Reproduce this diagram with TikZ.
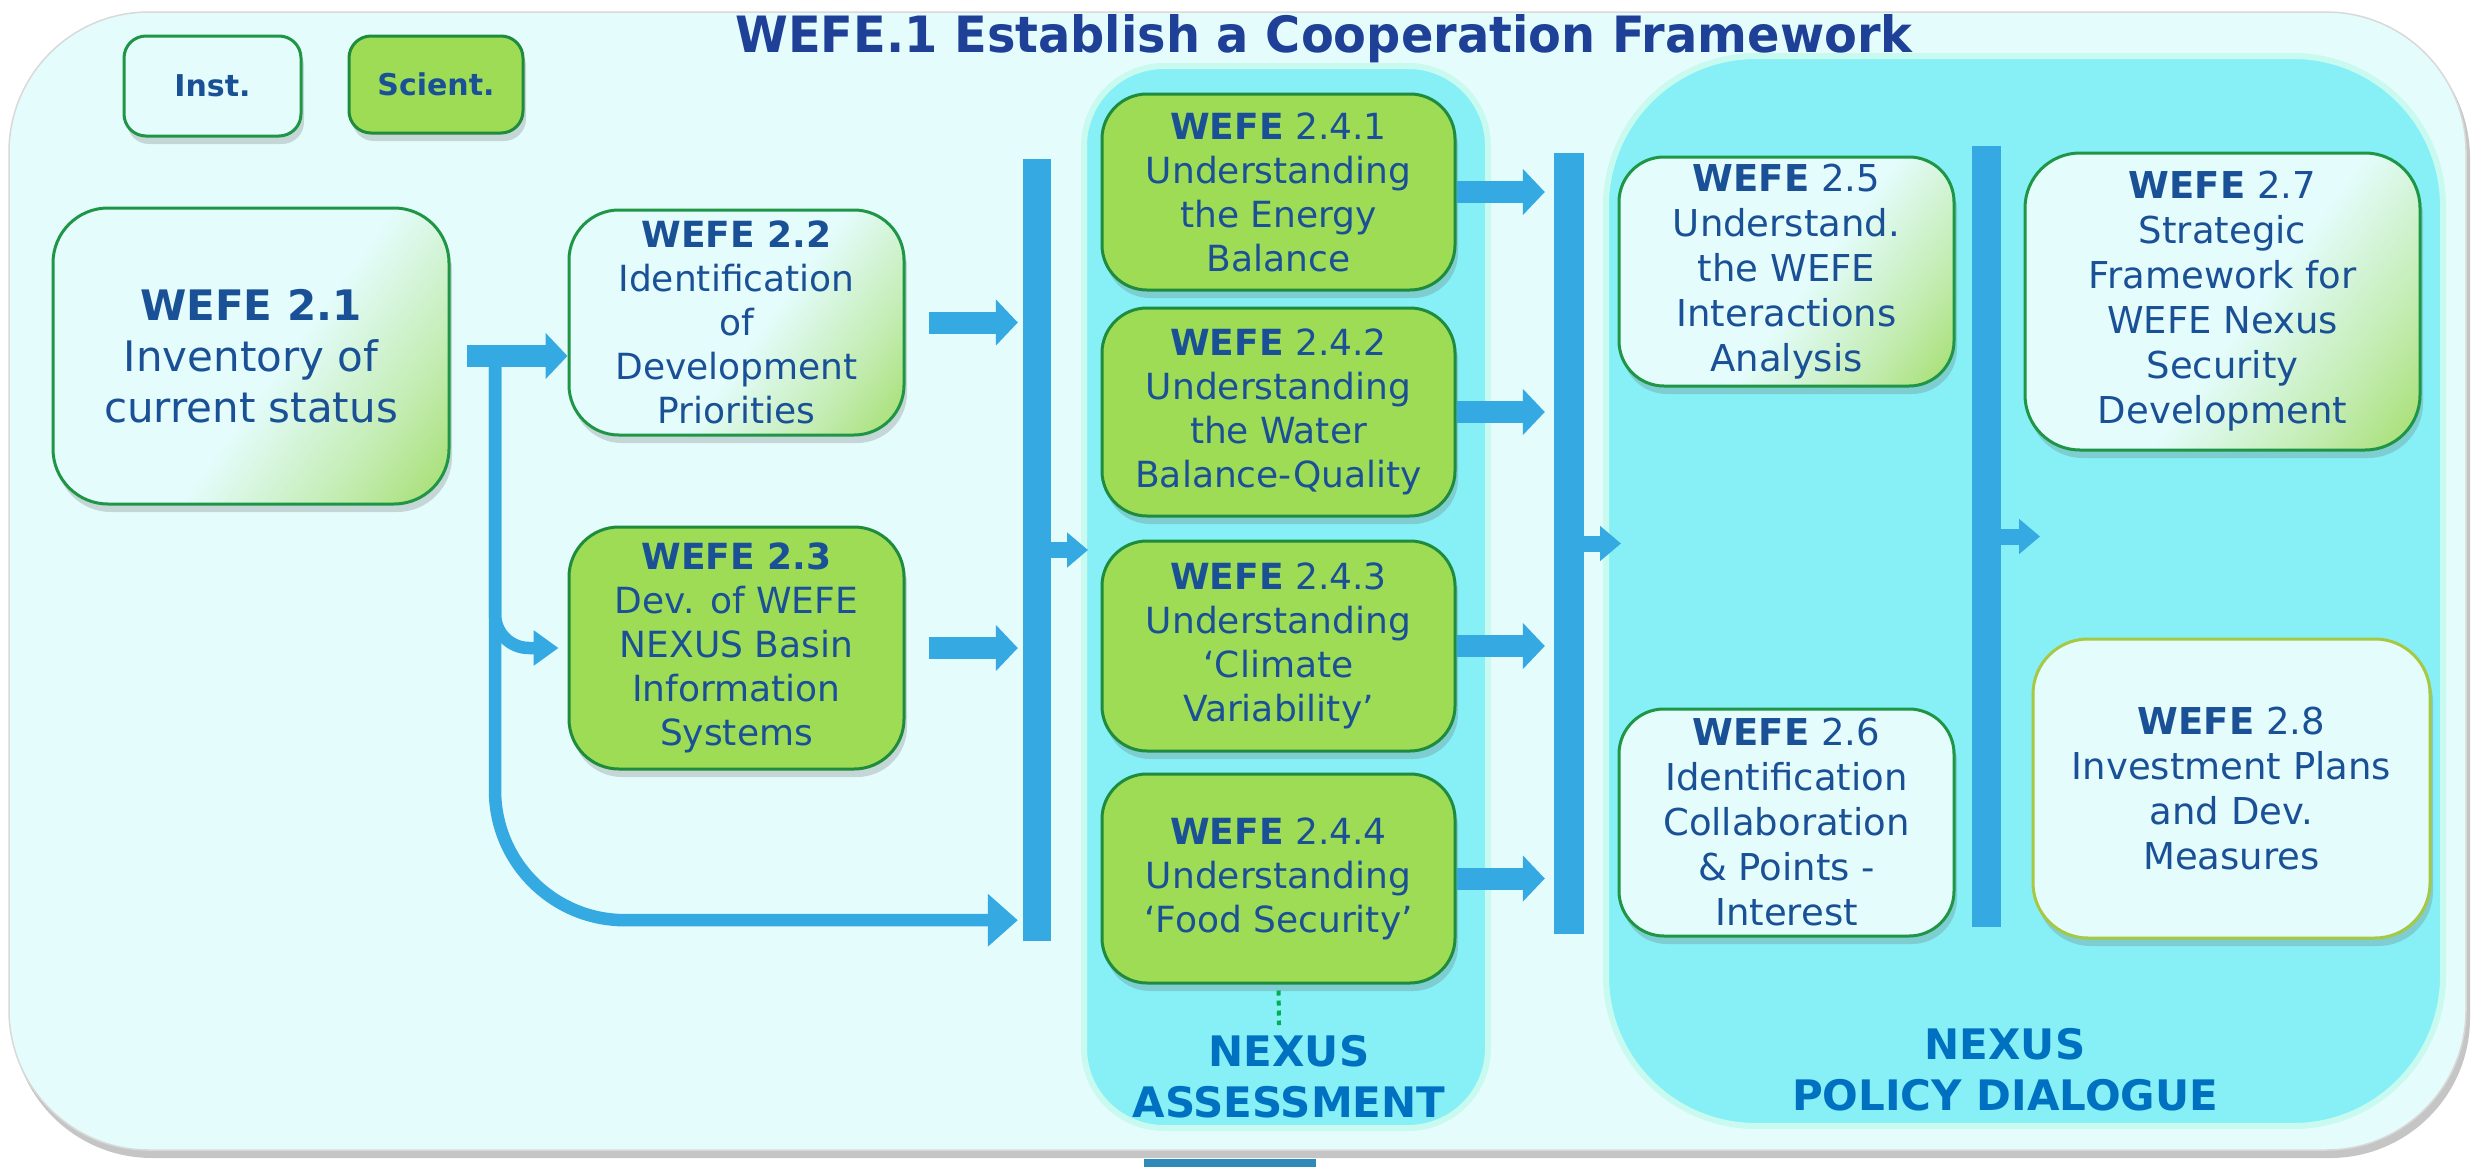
\documentclass[tikz,border=0pt]{standalone}
\usepackage{fontspec}
\setmainfont{DejaVu Sans}
\usepackage{graphicx}
\usetikzlibrary{arrows.meta,shadows,calc}

\definecolor{txt}{RGB}{26,80,150}
\definecolor{ttl}{RGB}{30,64,150}
\definecolor{nexus}{RGB}{0,112,192}
\definecolor{barblue}{RGB}{53,169,225}
\definecolor{framefill}{RGB}{229,252,253}
\definecolor{panelfill}{RGB}{134,240,246}
\definecolor{panelrim}{RGB}{200,250,240}
\definecolor{gmain}{RGB}{158,220,85}
\definecolor{gtop}{RGB}{190,236,120}
\definecolor{gborder}{RGB}{30,140,60}
\definecolor{lcyan}{RGB}{228,252,252}
\definecolor{lgreen}{RGB}{152,216,82}
\colorlet{lmid}{lgreen!45!lcyan}
\definecolor{lborder}{RGB}{30,150,70}
\definecolor{oborder}{RGB}{166,200,66}
\definecolor{dotgreen}{RGB}{0,176,80}
\definecolor{bottomblue}{RGB}{46,138,184}

\pgfdeclareverticalshading{gshade}{100bp}{color(0bp)=(gmain); color(86bp)=(gmain); color(94bp)=(gtop); color(100bp)=(gmain)}
\pgfdeclarehorizontalshading{lshade}{100bp}{color(0bp)=(lcyan); color(54bp)=(lcyan); color(72bp)=(lmid); color(90bp)=(lgreen); color(100bp)=(lgreen)}

\tikzset{
  boxbase/.style={rounded corners=50pt, inner sep=0pt, align=center, text=txt, line width=3pt,
    drop shadow={shadow xshift=3pt, shadow yshift=-8pt, opacity=0.25, fill=black!60}},
  gbox/.style={boxbase, draw=gborder, shade, shading=gshade},
  lbox/.style={boxbase, draw=lborder, shade, shading=lshade, shading angle=-36},
  pbox/.style={boxbase, draw=lborder, fill=lcyan},
  fbig/.style={font=\fontsize{42}{51}\selectfont},
  fmid/.style={font=\fontsize{36}{44}\selectfont},
  fpol/.style={font=\fontsize{37}{45}\selectfont},
  flegend/.style={font=\bfseries\fontsize{30}{36}\selectfont},
  fnexus/.style={font=\bfseries\fontsize{42}{51}\selectfont, text=nexus, align=center},
  bar/.style={fill=barblue, inner sep=0pt},
  panelbox/.style={fill=panelfill, draw=panelrim, line width=6pt, inner sep=0pt},
  blk/.style={draw=barblue, line width=22pt, -{Triangle[length=22pt,width=45pt]}},
  smallblk/.style={draw=barblue, line width=16pt, -{Triangle[length=21pt,width=34pt]}},
  branchblk/.style={draw=barblue, line width=12.5pt, -{Triangle[length=25pt,width=34pt]}},
  longblk/.style={draw=barblue, line width=12.5pt, -{Triangle[length=30pt,width=51pt]}},
}

\begin{document}
\begin{tikzpicture}[x=1pt,y=-1pt]
\useasboundingbox (0,0) rectangle (2471,1167);
\fill[white] (0,0) rectangle (2471,1167);

% outer frame
\path[fill=black!45, opacity=0.5, rounded corners=140pt] (12,18) rectangle (2470,1158);
\fill[bottomblue] (1144,1159) rectangle (1316,1167);
\path[fill=framefill, draw=black!15, line width=1.5pt, rounded corners=140pt] (9,12) rectangle (2466,1150);

% title
\node[anchor=base, text=ttl, inner sep=0pt] (title) at (1324,52)
  {\resizebox{1177pt}{38pt}{\bfseries WEFE.1 Establish a Cooperation Framework}};

% panels
\node[panelbox, rounded corners=80pt, minimum width=404pt, minimum height=1062pt] (apanel) at (1286,597) {};
\node[panelbox, rounded corners=150pt, minimum width=837pt, minimum height=1070pt] (ppanel) at (2024.5,591) {};

% legend
\node[pbox, rounded corners=22pt, minimum width=177pt, minimum height=100pt, flegend] (inst) at (212.5,86) {Inst.};
\node[gbox, rounded corners=22pt, minimum width=174pt, minimum height=97pt, flegend] (scient) at (436,84.5) {Scient.};

% bars
\node[bar, minimum width=28pt, minimum height=782pt] (bar1) at (1037,550) {};
\node[bar, minimum width=30pt, minimum height=781pt] (bar2) at (1569,543.5) {};
\node[bar, minimum width=29pt, minimum height=781pt] (bar3) at (1986.5,536.5) {};

% boxes
\node[lbox, rounded corners=55pt, minimum width=396pt, minimum height=296pt, fbig] (n21) at (251,356)
  {{\bfseries WEFE 2.1}\\Inventory of\\current status};
\node[lbox, minimum width=335pt, minimum height=225pt, fmid] (n22) at (736.5,322.5)
  {{\bfseries WEFE 2.2}\\Identification\\of\\Development\\Priorities};
\node[gbox, minimum width=335pt, minimum height=242pt, fmid] (n23) at (736.5,648)
  {{\bfseries WEFE 2.3}\\Dev. of WEFE\\NEXUS Basin\\Information\\Systems};

\node[gbox, rounded corners=45pt, minimum width=353pt, minimum height=196pt, fmid] (n241) at (1278.5,192)
  {{\bfseries WEFE} 2.4.1\\Understanding\\the Energy\\Balance};
\node[gbox, rounded corners=45pt, minimum width=353pt, minimum height=208pt, fmid] (n242) at (1278.5,412)
  {{\bfseries WEFE} 2.4.2\\Understanding\\the Water\\Balance-Quality};
\node[gbox, rounded corners=45pt, minimum width=353pt, minimum height=210pt, fmid] (n243) at (1278.5,646)
  {{\bfseries WEFE} 2.4.3\\Understanding\\‘Climate\\Variability’};
\node[gbox, rounded corners=45pt, minimum width=353pt, minimum height=209pt, fmid] (n244) at (1278.5,878.5)
  {{\bfseries WEFE} 2.4.4\\Understanding\\‘Food Security’};

\node[lbox, rounded corners=45pt, minimum width=335pt, minimum height=229pt, fpol] (n25) at (1786.5,271.5)
  {{\bfseries WEFE} 2.5\\Understand.\\the WEFE\\Interactions\\Analysis};
\node[pbox, rounded corners=45pt, minimum width=335pt, minimum height=227pt, fpol] (n26) at (1786.5,822.5)
  {{\bfseries WEFE} 2.6\\Identification\\Collaboration\\\& Points -\\Interest};
\node[lbox, rounded corners=55pt, minimum width=395pt, minimum height=297pt, fpol] (n27) at (2222.5,301.5)
  {{\bfseries WEFE} 2.7\\Strategic\\Framework for\\WEFE Nexus\\Security\\Development};
\node[pbox, draw=oborder, rounded corners=55pt, minimum width=397pt, minimum height=299pt, fpol] (n28) at (2231.5,788.5)
  {{\bfseries WEFE} 2.8\\Investment Plans\\and Dev.\\Measures};

% panel labels
\node[fnexus] (lbla) at (1289,1077) {NEXUS\\ASSESSMENT};
\node[fnexus] (lblp) at (2005,1070) {NEXUS\\POLICY DIALOGUE};

% connectors
\coordinate (split) at (495,356);
\coordinate (longin) at ($(bar1.south west)+(0,-21)$);
\draw[branchblk, rounded corners=34pt, shorten >=9pt] (split) |- (n23.west);
\draw[longblk, rounded corners=130pt, shorten >=5pt] (split) |- (longin);
\draw[blk, shorten <=16pt] (n21.east) -- (n21.east -| n22.west);

\draw[blk, shorten <=23pt, shorten >=5pt] (n22.east) -- (n22.east -| bar1.west);
\draw[blk, shorten <=23pt, shorten >=5pt] (n23.east) -- (n23.east -| bar1.west);
\draw[smallblk, shorten >=-7pt] (bar1.east) -- (bar1.east -| apanel.west);

\draw[blk, shorten >=9pt] (n241.east) -- (n241.east -| bar2.west);
\draw[blk, shorten >=9pt] (n242.east) -- (n242.east -| bar2.west);
\draw[blk, shorten >=9pt] (n243.east) -- (n243.east -| bar2.west);
\draw[blk, shorten >=9pt] (n244.east) -- (n244.east -| bar2.west);
\draw[smallblk, shorten >=-18pt] (bar2.east) -- (bar2.east -| ppanel.west);

\coordinate (b3out) at (2040,536.5);
\draw[smallblk] (bar3.east) -- (b3out);

\coordinate (dotend) at (1279,1025);
\draw[dotgreen, line width=4pt, dash pattern=on 5pt off 5pt, shorten <=6pt] (n244.south) -- (dotend);
\end{tikzpicture}
\end{document}
